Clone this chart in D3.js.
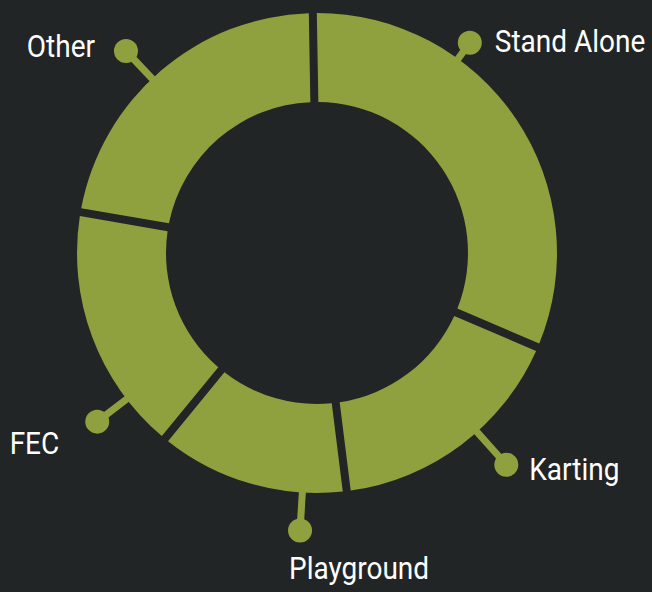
<!DOCTYPE html>
<html lang="en">
<head>
  <meta charset="UTF-8">
  <title>Venue Type Share</title>
  <style>
    html, body {
      margin: 0;
      padding: 0;
      background: #222525;
      overflow: hidden;
    }
    .label {
      fill: #ffffff;
      font-family: Roboto, "Liberation Sans Narrow", sans-serif;
      font-size: 32px;
      font-weight: 400;
    }
  </style>
</head>
<body>
  <div class="layout"></div>
  <script src="https://d3js.org/d3.v7.min.js"></script>
  <script>
    // chart data (share of total, %)
    const categories = ['Stand Alone', 'Karting', 'Playground', 'FEC', 'Other'];
    const shares = [31.7, 16.6, 12.9, 16.8, 22.0];

    // chart properties
    const SVGWIDTH = 652;
    const SVGHEIGHT = 592;
    const CENTER = {x: 317, y: 253};
    const OUTER = 240;
    const INNER = 151;
    const GAP = 8;
    const GREEN = '#8fa13e';
    const BG = '#222525';
    const deg = Math.PI / 180;

    // where each label's tick ends (angle in degrees, radius) and text offset from the dot
    const labelLayout = [
      {angle: 36,    r: 260, dx: 25,  dy: 9,  anchor: 'start'},
      {angle: 138.2, r: 284, dx: 23,  dy: 15, anchor: 'start'},
      {angle: 183.5, r: 278, dx: -11, dy: 49, anchor: 'start'},
      {angle: 232.5, r: 277, dx: -38, dy: 32, anchor: 'end'},
      {angle: 316.6, r: 278, dx: -31, dy: 6,  anchor: 'end'}
    ];

    const SVG = d3.select('.layout')
      .append('svg')
        .attr('width', SVGWIDTH)
        .attr('height', SVGHEIGHT)
        .attr('viewBox', `0 0 ${SVGWIDTH} ${SVGHEIGHT}`);

    SVG.append('rect')
      .attr('width', SVGWIDTH)
      .attr('height', SVGHEIGHT)
      .attr('fill', BG);

    const chartArea = SVG.append('g')
      .attr('transform', `translate(${CENTER.x},${CENTER.y})`);

    const chartData = categories.map((c, i) => ({name: c, value: shares[i]}));

    const pie = d3.pie()
      .sort(null)
      .value(d => d.value)
      .startAngle(-1 * deg)
      .endAngle(359 * deg);

    const arc = d3.arc()
      .innerRadius(INNER)
      .outerRadius(OUTER)
      .padRadius(OUTER)
      .padAngle(GAP / OUTER);

    // draw the slices
    chartArea.selectAll('path.slice')
      .data(pie(chartData))
      .enter()
      .append('path')
        .attr('class', 'slice')
        .attr('d', arc)
        .attr('fill', GREEN);

    // ticks, dots and labels
    const polar = (a, r) => [r * Math.sin(a * deg), -r * Math.cos(a * deg)];

    const labels = chartArea.selectAll('g.tick-label')
      .data(chartData)
      .enter()
      .append('g')
        .attr('class', 'tick-label');

    labels.append('line')
      .attr('x1', (d, i) => polar(labelLayout[i].angle, OUTER - 4)[0])
      .attr('y1', (d, i) => polar(labelLayout[i].angle, OUTER - 4)[1])
      .attr('x2', (d, i) => polar(labelLayout[i].angle, labelLayout[i].r)[0])
      .attr('y2', (d, i) => polar(labelLayout[i].angle, labelLayout[i].r)[1])
      .attr('stroke', GREEN)
      .attr('stroke-width', 7);

    labels.append('circle')
      .attr('cx', (d, i) => polar(labelLayout[i].angle, labelLayout[i].r)[0])
      .attr('cy', (d, i) => polar(labelLayout[i].angle, labelLayout[i].r)[1])
      .attr('r', 12)
      .attr('fill', GREEN);

    labels.append('text')
      .attr('class', 'label')
      .attr('text-anchor', (d, i) => labelLayout[i].anchor)
      .attr('transform', (d, i) => {
        const L = labelLayout[i];
        const p = polar(L.angle, L.r);
        return `translate(${p[0] + L.dx},${p[1] + L.dy}) scale(0.875,1)`;
      })
      .text(d => d.name);
  </script>
</body>
</html>
